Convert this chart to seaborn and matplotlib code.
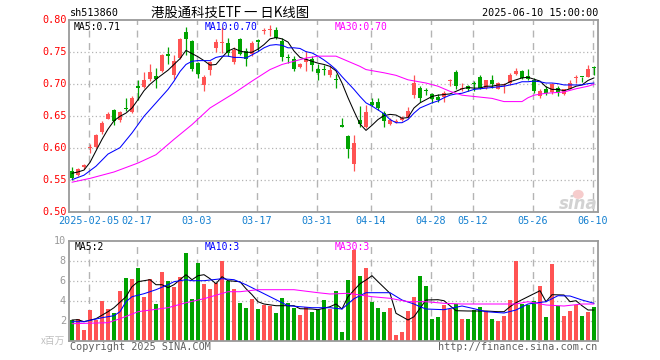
import matplotlib
matplotlib.use("Agg")
import matplotlib.pyplot as plt
from matplotlib.patches import Ellipse
import seaborn as sns
import numpy as np

# ---------------- data ----------------
open_ = [0.565,0.559,0.571,0.601,0.602,0.625,0.646,0.660,0.644,0.662,
         0.657,0.697,0.696,0.708,0.713,0.721,0.747,0.715,0.741,0.782,
         0.768,0.734,0.699,0.723,0.756,0.764,0.765,0.735,0.771,0.752,
         0.747,0.770,0.783,0.785,0.785,0.767,0.742,0.740,0.727,0.735,
         0.740,0.724,0.723,0.715,0.707,0.636,0.619,0.575,0.645,0.633,
         0.673,0.673,0.655,0.638,0.641,0.644,0.649,0.683,0.695,0.690,
         0.685,0.680,0.680,0.705,0.719,0.692,0.697,0.702,0.712,0.695,
         0.707,0.693,0.699,0.702,0.716,0.721,0.713,0.707,0.681,0.693,
         0.688,0.694,0.685,0.693,0.710,0.712,0.712,0.727]
high = [0.571,0.569,0.576,0.607,0.623,0.643,0.656,0.661,0.659,0.679,
        0.681,0.706,0.720,0.731,0.726,0.747,0.758,0.746,0.773,0.789,
        0.769,0.735,0.715,0.737,0.770,0.789,0.773,0.758,0.773,0.757,
        0.767,0.771,0.788,0.793,0.789,0.772,0.747,0.744,0.734,0.752,
        0.744,0.731,0.730,0.728,0.716,0.647,0.620,0.620,0.666,0.668,
        0.679,0.679,0.659,0.647,0.645,0.650,0.664,0.715,0.697,0.695,
        0.687,0.685,0.689,0.709,0.723,0.702,0.699,0.705,0.714,0.707,
        0.714,0.704,0.702,0.718,0.725,0.723,0.724,0.710,0.692,0.697,
        0.702,0.697,0.693,0.707,0.714,0.712,0.730,0.728]
low = [0.550,0.556,0.568,0.593,0.600,0.623,0.645,0.637,0.641,0.659,
       0.655,0.675,0.694,0.705,0.695,0.719,0.731,0.709,0.739,0.745,
       0.721,0.710,0.690,0.715,0.750,0.749,0.744,0.731,0.745,0.728,
       0.744,0.752,0.778,0.775,0.770,0.736,0.733,0.721,0.725,0.721,
       0.721,0.707,0.715,0.711,0.695,0.634,0.585,0.565,0.634,0.632,
       0.666,0.660,0.634,0.636,0.639,0.642,0.647,0.679,0.673,0.683,
       0.671,0.673,0.673,0.698,0.692,0.690,0.689,0.690,0.693,0.693,
       0.694,0.692,0.686,0.699,0.715,0.709,0.707,0.686,0.679,0.684,
       0.685,0.681,0.684,0.692,0.702,0.703,0.711,0.714]
close = [0.553,0.567,0.574,0.602,0.621,0.639,0.654,0.642,0.657,0.661,
         0.679,0.695,0.706,0.720,0.708,0.746,0.745,0.736,0.771,0.771,
         0.724,0.716,0.712,0.735,0.766,0.765,0.749,0.753,0.747,0.740,
         0.765,0.766,0.785,0.787,0.772,0.742,0.741,0.724,0.732,0.740,
         0.730,0.718,0.722,0.722,0.706,0.634,0.599,0.608,0.638,0.657,
         0.667,0.663,0.642,0.645,0.643,0.648,0.659,0.702,0.679,0.689,
         0.677,0.676,0.686,0.707,0.697,0.695,0.692,0.701,0.695,0.707,
         0.700,0.702,0.700,0.714,0.721,0.710,0.709,0.689,0.690,0.686,
         0.700,0.688,0.692,0.702,0.711,0.711,0.724,0.726]
volume = [2.07,2.13,1.07,3.07,2.1,4.0,3.17,2.8,4.97,6.27,
          6.17,7.27,4.37,6.17,3.67,6.87,5.97,5.37,6.37,8.77,
          4.17,7.77,5.67,5.17,5.77,7.97,5.97,5.17,3.77,3.27,
          4.2,3.17,3.57,3.47,2.77,4.27,3.77,3.27,2.57,3.37,
          2.87,3.07,4.07,3.17,4.97,0.9,6.07,9.07,6.47,7.3,
          3.9,3.3,2.9,3.3,0.57,0.9,3.0,4.4,6.5,5.47,
          2.17,2.4,3.57,3.17,3.67,2.2,2.17,3.07,3.37,3.0,
          2.2,1.93,2.43,4.1,8.0,3.67,3.57,3.97,5.47,2.4,
          7.67,3.47,2.43,3.0,3.57,2.47,2.87,3.37]

# price moving averages
ma5 = [0.561,0.563,0.566,0.578,0.596,0.614,0.630,0.643,0.650,0.655,
       0.663,0.676,0.690,0.700,0.708,0.715,0.722,0.731,0.740,0.753,
       0.748,0.743,0.737,0.730,0.731,0.742,0.752,0.756,0.752,0.750,
       0.750,0.755,0.762,0.771,0.773,0.771,0.766,0.752,0.742,0.739,
       0.736,0.733,0.731,0.728,0.721,0.702,0.679,0.658,0.638,0.628,
       0.636,0.645,0.651,0.653,0.652,0.647,0.648,0.663,0.671,0.676,
       0.681,0.683,0.684,0.685,0.689,0.693,0.695,0.694,0.694,0.697,
       0.697,0.699,0.699,0.704,0.707,0.710,0.711,0.708,0.705,0.696,
       0.692,0.692,0.690,0.693,0.697,0.699,0.706,0.710]
ma10_x = [0,2,4,6,8,10,12,14,16,17,18,19,20,21,23,24,25,26,27,28,29,30,31,32,33,34,35,36,37,38,
          39,40,41,42,43,44,45,46,47,48,49,50,51,52,53,54,55,56,57,58,59,60,61,62,63,64,65,66,67,
          68,69,70,71,72,73,74,75,76,77,78,79,80,81,82,83,84,85,86,87]
ma10_y = [0.551,0.558,0.572,0.591,0.601,0.624,0.650,0.671,0.692,0.705,0.720,0.731,0.736,0.737,
          0.737,0.742,0.744,0.744,0.742,0.742,0.741,0.746,0.751,0.757,0.761,0.762,0.761,0.757,
          0.757,0.756,0.751,0.749,0.744,0.738,0.731,0.723,0.712,0.702,0.692,0.681,0.671,0.666,
          0.660,0.654,0.645,0.640,0.640,0.645,0.655,0.663,0.667,0.671,0.674,0.679,0.683,0.685,
          0.686,0.689,0.692,0.693,0.694,0.695,0.696,0.697,0.699,0.701,0.704,0.704,0.705,0.704,
          0.702,0.702,0.701,0.699,0.699,0.699,0.699,0.701,0.702]
ma30_x = [0,3,7,11,14,16,17,20,23,27,30,33,35,37,39,41,44,46,48,49,52,54,56,59,61,63,65,68,70,
          72,75,76,77,79,82,84,86,87]
ma30_y = [0.547,0.553,0.563,0.577,0.590,0.606,0.614,0.637,0.663,0.686,0.705,0.723,0.731,0.736,
          0.741,0.744,0.744,0.736,0.728,0.723,0.718,0.714,0.707,0.702,0.697,0.689,0.683,0.680,
          0.678,0.673,0.673,0.679,0.683,0.686,0.688,0.693,0.697,0.700]

# volume moving averages
vma5_x = [0,1,2,4,6,7,9,10,11,13,14,15,16,17,19,20,21,22,23,24,25,26,28,29,30,31,32,34,35,37,
          38,40,41,43,44,45,46,48,49,50,51,53,54,56,57,59,61,62,64,66,69,71,72,73,74,75,76,78,
          79,80,82,83,84,85,86,87]
vma5_y = [2.07,2.1,1.9,2.2,2.9,3.3,4.4,5.4,5.9,6.1,5.6,5.6,5.3,5.6,6.6,6.1,6.5,6.6,6.2,5.7,
          6.4,6.0,5.9,5.2,4.6,3.9,3.67,3.5,3.5,3.5,3.2,3.17,3.1,3.4,3.67,3.17,4.4,5.7,6.07,
          6.5,5.9,4.74,2.74,2.07,2.4,4.07,4.1,4.0,3.0,2.97,2.97,2.9,2.9,3.4,3.8,4.1,4.4,5.0,
          3.9,4.6,4.57,3.9,4.0,3.5,3.07,3.07]
vma10_x = [0,2,5,7,8,9,10,12,14,16,17,19,20,22,25,27,29,30,32,34,36,38,40,43,45,47,49,53,55,
           57,58,59,62,65,67,69,72,74,76,79,81,83,85,87]
vma10_y = [1.9,1.9,2.3,2.5,2.9,3.9,4.4,4.7,5.1,5.6,5.9,6.1,6.0,6.0,6.2,6.1,5.6,5.3,4.7,4.1,
           3.5,3.4,3.3,3.3,3.17,4.2,4.8,4.8,4.07,3.67,3.4,3.17,3.1,3.47,3.2,2.9,2.77,3.07,3.67,
           3.9,4.5,4.47,4.07,3.74]
vma30_x = [0,6,8,11,16,19,22,26,28,31,37,41,43,46,50,53,56,59,62,65,71,74,76,79,82,85,87]
vma30_y = [1.7,1.8,2.2,2.9,3.3,3.8,4.2,4.9,4.9,5.1,5.1,4.8,4.67,4.74,4.4,4.24,3.9,3.9,3.74,
           3.67,3.67,3.67,3.9,3.57,3.47,3.67,3.67]

tick_idx = [3, 11, 21, 31, 41, 50, 60, 67, 77, 87]
tick_labels = ["2025-02-05", "02-17", "03-03", "03-17", "03-31",
               "04-14", "04-28", "05-12", "05-26", "06-10"]
price_ticks = [0.50, 0.55, 0.60, 0.65, 0.70, 0.75, 0.80]
vol_ticks = [2, 4, 6, 8, 10]

# ---------------- style ----------------
sns.set_theme(style="white")
plt.rcParams['font.family'] = ['DejaVu Sans Mono', 'Noto Sans CJK SC']

RED = '#ff5353'
GREEN = '#00a300'
FRAME = '#9a9a9a'
GRID = '#b4b4b4'
LW = 0.75
W, H = 660, 360

fig = plt.figure(figsize=(6.6, 3.6), dpi=100)
fig.patch.set_facecolor('white')

def fx(px):
    return px / W

def fy(py):
    return 1 - py / H

xl, xr = 68.5, 598.0
ax = fig.add_axes([fx(xl), fy(212.3), fx(xr - xl), (212.3 - 20.3) / H])
axv = fig.add_axes([fx(xl), fy(340.7), fx(xr - xl), (340.7 - 240.7) / H])

n = len(close)
x = np.arange(n)
xlim = ((xl - 72) / 6.0, (xr - 72) / 6.0)

is_up = [c >= o for o, c in zip(open_, close)]
cols = [RED if u else GREEN for u in is_up]

for a in (ax, axv):
    a.set_facecolor('white')
    a.set_xlim(*xlim)
    for s in a.spines.values():
        s.set_color(FRAME)
        s.set_linewidth(1.3)
    a.set_xticks([])
    a.tick_params(axis='both', length=0)
    for t in tick_idx:
        a.axvline(t - 0.22, color=GRID, lw=1.0, ls=(0, (5, 4)), zorder=0)

# price panel
ax.set_ylim(0.50, 0.80)
for p in price_ticks[1:-1]:
    ax.axhline(p, color=GRID, lw=0.9, ls=(0, (1, 2)), zorder=0)
ax.set_yticks([])

ax.vlines(x, low, high, colors=cols, lw=0.9, zorder=2)
body_b = [min(o, c) for o, c in zip(open_, close)]
body_h = [max(abs(c - o), 0.0016) for o, c in zip(open_, close)]
ax.bar(x, body_h, bottom=body_b, width=0.8, color=cols, linewidth=0, zorder=3)

sns.lineplot(x=list(range(n)), y=ma5, ax=ax, color='black', lw=LW, estimator=None, sort=False, zorder=4)
sns.lineplot(x=ma10_x, y=ma10_y, ax=ax, color='#0000ff', lw=LW, estimator=None, sort=False, zorder=4)
sns.lineplot(x=ma30_x, y=ma30_y, ax=ax, color='#ff00ff', lw=LW, estimator=None, sort=False, zorder=4)
ax.set_xlabel('')
ax.set_ylabel('')

# watermark (logo) inside price panel
ax.add_patch(Ellipse((xlim[1] - 3.3, 0.528), 1.6, 0.012, color='#f6cccc', zorder=1))
ax.text(xlim[1] - 3.3, 0.513, "sina", color='#d2d2d2', fontsize=12, ha='center', va='center',
        style='italic', fontweight='bold', family=['DejaVu Sans'], zorder=1)

# volume panel
axv.set_ylim(0, 10)
for v in vol_ticks[:-1]:
    axv.axhline(v, color=GRID, lw=0.9, ls=(0, (1, 2)), zorder=0)
axv.set_yticks([])
axv.bar(x, volume, width=0.83, color=cols, linewidth=0, zorder=2)
sns.lineplot(x=vma5_x, y=vma5_y, ax=axv, color='black', lw=LW, estimator=None, sort=False, zorder=4)
sns.lineplot(x=vma10_x, y=vma10_y, ax=axv, color='#0000ff', lw=LW, estimator=None, sort=False, zorder=4)
sns.lineplot(x=vma30_x, y=vma30_y, ax=axv, color='#ff00ff', lw=LW, estimator=None, sort=False, zorder=4)
axv.set_xlabel('')
axv.set_ylabel('')

FS = 7.3
# price y labels
for p in price_ticks:
    py = 20.3 + (0.80 - p) * 640
    fig.text(fx(66.5), fy(py), f"{p:.2f}", color='#ff0000', fontsize=FS, ha='right', va='center')
# volume y labels
for v in vol_ticks:
    py = 340.7 - 10 * v
    fig.text(fx(66), fy(py), f"{v}", color='#9a9a9a', fontsize=FS, ha='right', va='center')
fig.text(fx(65), fy(340.5), "x百万", color='#c0c0c0', fontsize=7,
         ha='right', va='center', family=['Noto Sans CJK SC', 'DejaVu Sans'])

# x labels
for t, lab in zip(tick_idx, tick_labels):
    px = 72 + 6 * t - 1.3
    fig.text(fx(px), fy(221.5), lab, color='#1580d0', fontsize=FS, ha='center', va='center')

# header
fig.text(fx(69.5), fy(13), "sh513860", color='black', fontsize=FS, ha='left', va='center')
fig.text(fx(230), fy(12.5), "港股通科技ETF 一 日K线图", color='black', fontsize=9.6,
         ha='center', va='center', family=['Noto Sans CJK SC', 'DejaVu Sans'])
fig.text(fx(598.5), fy(13), "2025-06-10 15:00:00", color='black', fontsize=FS, ha='right', va='center')

# legends
fig.text(fx(73.5), fy(26.5), "MA5:0.71", color='black', fontsize=7.0, ha='left', va='center')
fig.text(fx(204.5), fy(26.5), "MA10:0.70", color='#0000ff', fontsize=7.0, ha='left', va='center')
fig.text(fx(334.5), fy(26.5), "MA30:0.70", color='#ff00ff', fontsize=7.0, ha='left', va='center')
fig.text(fx(74.5), fy(246.5), "MA5:2", color='black', fontsize=7.0, ha='left', va='center')
fig.text(fx(204.5), fy(246.5), "MA10:3", color='#0000ff', fontsize=7.0, ha='left', va='center')
fig.text(fx(334.5), fy(246.5), "MA30:3", color='#ff00ff', fontsize=7.0, ha='left', va='center')

# footer
fig.text(fx(69.5), fy(346.5), "Copyright 2025 SINA.COM", color='#606060', fontsize=FS, ha='left', va='center')
fig.text(fx(597.5), fy(346.5), "http://finance.sina.com.cn", color='#606060', fontsize=FS, ha='right', va='center')

fig.savefig("out.png", dpi=100, facecolor='white')
